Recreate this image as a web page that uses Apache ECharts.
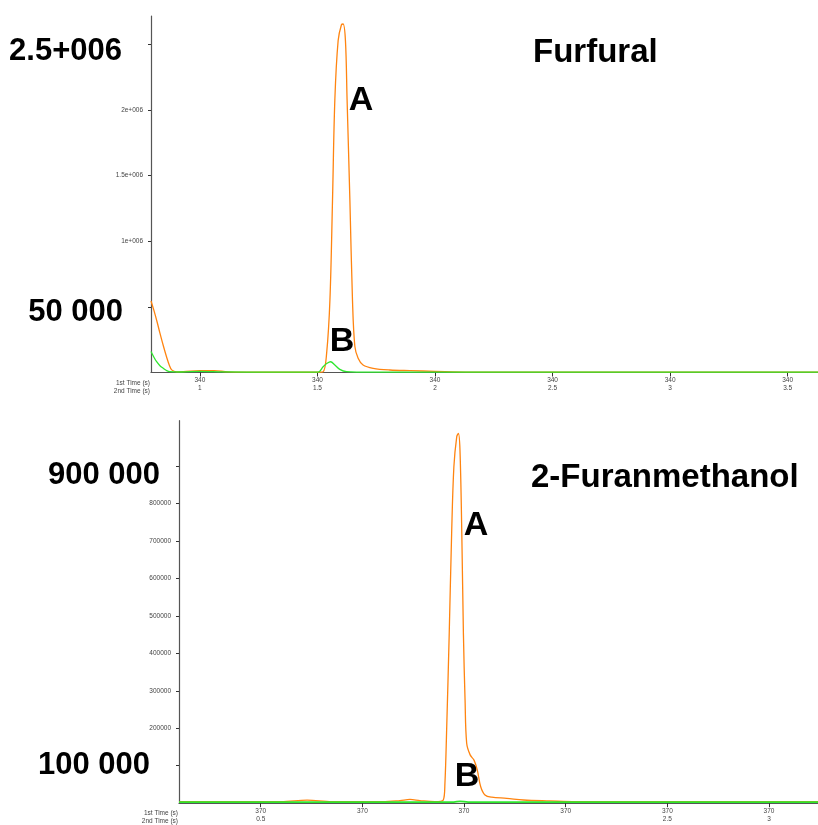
<!DOCTYPE html>
<html>
<head>
<meta charset="utf-8">
<script src="https://cdn.jsdelivr.net/npm/echarts@6/dist/echarts.min.js"></script>
<style>
    html, body { margin: 0; padding: 0; background: #fff; }
    #chart { width: 818px; height: 825px; }
</style>
</head>
<body>
<div id="chart"></div>
<script>
// x = 2nd time (s), y = intensity
var furfuralOrange = [
    [0.792, 545000], [0.805, 470000], [0.818, 385000], [0.830, 300000], [0.845, 200000],
    [0.858, 120000], [0.870, 55000], [0.880, 20000], [0.901, 5000],
    [0.93, 6000], [1.0, 15000], [1.06, 14000], [1.12, 5000], [1.2, 2500],
    [1.35, 2000], [1.50, 2000], [1.524, 6000], [1.539, 146000], [1.553, 550000],
    [1.564, 1310000], [1.574, 2080000], [1.588, 2530000], [1.602, 2650000], [1.609, 2656000],
    [1.619, 2530000], [1.626, 2080000], [1.638, 1310000], [1.649, 550000], [1.659, 200000],
    [1.673, 108000], [1.694, 57000], [1.737, 32000], [1.808, 19000], [1.893, 14000],
    [2.0, 9000], [2.15, 3500], [2.5, 2500], [3.0, 2500], [3.3, 3500], [3.629, 2500]
];
var furfuralGreen = [
    [0.792, 160000], [0.804, 118000], [0.816, 82000], [0.830, 52000], [0.844, 32000],
    [0.858, 15000], [0.872, 6000], [0.92, 4000],
    [1.0, 9000], [1.1, 5000], [1.3, 3000], [1.503, 3000], [1.524, 44000],
    [1.541, 70000], [1.556, 82000], [1.574, 57000], [1.595, 24000], [1.624, 6000],
    [1.666, 3000], [2.0, 3000], [3.0, 3000], [3.629, 3000]
];
var furanmethanolOrange = [
    [0.098, 4000], [0.6, 4000], [0.728, 8000], [0.85, 4000], [1.1, 4000],
    [1.185, 7000], [1.234, 10000], [1.283, 7000], [1.357, 4000], [1.398, 8600],
    [1.406, 53000], [1.414, 187000], [1.427, 450000], [1.439, 720000], [1.450, 898000],
    [1.464, 978000], [1.472, 987000], [1.480, 943000], [1.489, 720000], [1.497, 450000],
    [1.505, 276000], [1.513, 160000], [1.530, 129000], [1.549, 115000], [1.565, 89000],
    [1.582, 44000], [1.603, 22000], [1.636, 16000], [1.710, 13000], [1.792, 8500],
    [1.923, 6000], [2.05, 4000], [2.6, 4000], [3.241, 4000]
];
var furanmethanolGreen = [
    [0.098, 3000], [1.0, 3000], [1.45, 3000], [1.48, 5000], [1.52, 3000],
    [2.0, 3000], [3.241, 3000]
];
var topXTicks = [1, 1.5, 2, 2.5, 3, 3.5];
var topXSecond = ['1', '1.5', '2', '2.5', '3', '3.5'];
var bottomXTicks = [0.5, 1, 1.5, 2, 2.5, 3];
var bottomXSecond = ['0.5', '', '', '', '2.5', '3'];
var topYTicks = [500000, 1000000, 1500000, 2000000, 2500000];
var topYLabels = [1000000, 1500000, 2000000];
var bottomYTicks = [100000, 200000, 300000, 400000, 500000, 600000, 700000, 800000, 900000];
var bottomYLabels = [200000, 300000, 400000, 500000, 600000, 700000, 800000];

var ORANGE = '#ff8410';
var GREEN = '#2ee62e';
var AXIS = '#555';
var FONT = 'Liberation Sans, Arial, sans-serif';

function xAxisCfg(idx, min, max, ticks, first, second) {
    return {
        type: 'value', gridIndex: idx, min: min, max: max,
        splitLine: { show: false },
        axisLine: { lineStyle: { color: AXIS, width: 1.2 } },
        axisTick: { customValues: ticks, length: 4, lineStyle: { color: '#333' } },
        axisLabel: {
            customValues: ticks, margin: 4, color: '#444', fontSize: 6.5,
            lineHeight: 8, fontFamily: FONT,
            formatter: function (v) {
                var i = ticks.indexOf(v);
                return first + '\n' + (i >= 0 ? second[i] : '');
            }
        }
    };
}

function yAxisCfg(idx, max, ticks, labels, fmt) {
    return {
        type: 'value', gridIndex: idx, min: 0, max: max,
        splitLine: { show: false },
        axisLine: { show: true, lineStyle: { color: AXIS, width: 1.2 } },
        axisTick: { show: true, customValues: ticks, length: 3, lineStyle: { color: '#333' } },
        axisLabel: {
            customValues: labels, margin: 8, color: '#444', fontSize: 6.5,
            fontFamily: FONT, formatter: fmt
        }
    };
}

function lineSeries(idx, data, color, width) {
    return {
        type: 'line', xAxisIndex: idx, yAxisIndex: idx, data: data,
        showSymbol: false, smooth: 0.35,
        lineStyle: { color: color, width: width }, itemStyle: { color: color },
        silent: true
    };
}

function bigText(x, y, text, align, size) {
    return {
        type: 'text', x: x, y: y,
        style: {
            text: text, fill: '#000', font: 'bold ' + size + 'px ' + FONT,
            align: align, verticalAlign: 'middle'
        }
    };
}

function smallText(x, y, text) {
    return {
        type: 'text', x: x, y: y,
        style: {
            text: text, fill: '#444', font: '6.5px ' + FONT,
            align: 'right', verticalAlign: 'middle', lineHeight: 8
        }
    };
}

var chart = echarts.init(document.getElementById('chart'));
var option = {
    animation: false,
    backgroundColor: '#fff',
    grid: [
        { left: 151, right: 0, top: 16, bottom: 452.5 },
        { left: 179, right: 0, top: 420.7, bottom: 21.8 }
    ],
    xAxis: [
        xAxisCfg(0, 0.792, 3.629, topXTicks, '340', topXSecond),
        xAxisCfg(1, 0.098, 3.241, bottomXTicks, '370', bottomXSecond)
    ],
    yAxis: [
        yAxisCfg(0, 2717000, topYTicks, topYLabels, function (v) { return (v / 1000000) + 'e+006'; }),
        yAxisCfg(1, 1021000, bottomYTicks, bottomYLabels, function (v) { return String(v); })
    ],
    series: [
        lineSeries(0, furfuralOrange, ORANGE, 1.3),
        lineSeries(0, furfuralGreen, GREEN, 1.3),
        lineSeries(1, furanmethanolOrange, ORANGE, 1.3),
        lineSeries(1, furanmethanolGreen, GREEN, 1.8)
    ],
    graphic: [
        bigText(122, 51, '2.5+006', 'right', 31),
        bigText(123, 312, '50 000', 'right', 31),
        bigText(160, 475, '900 000', 'right', 31),
        bigText(150, 765, '100 000', 'right', 31),
        bigText(533, 53, 'Furfural', 'left', 33),
        bigText(531, 478, '2-Furanmethanol', 'left', 33),
        bigText(361, 101, 'A', 'center', 34),
        bigText(342, 342, 'B', 'center', 34),
        bigText(476, 526, 'A', 'center', 34),
        bigText(467, 777, 'B', 'center', 34),
        smallText(150, 387, '1st Time (s)\n2nd Time (s)'),
        smallText(178, 817, '1st Time (s)\n2nd Time (s)')
    ]
};
chart.setOption(option);
</script>
</body>
</html>
